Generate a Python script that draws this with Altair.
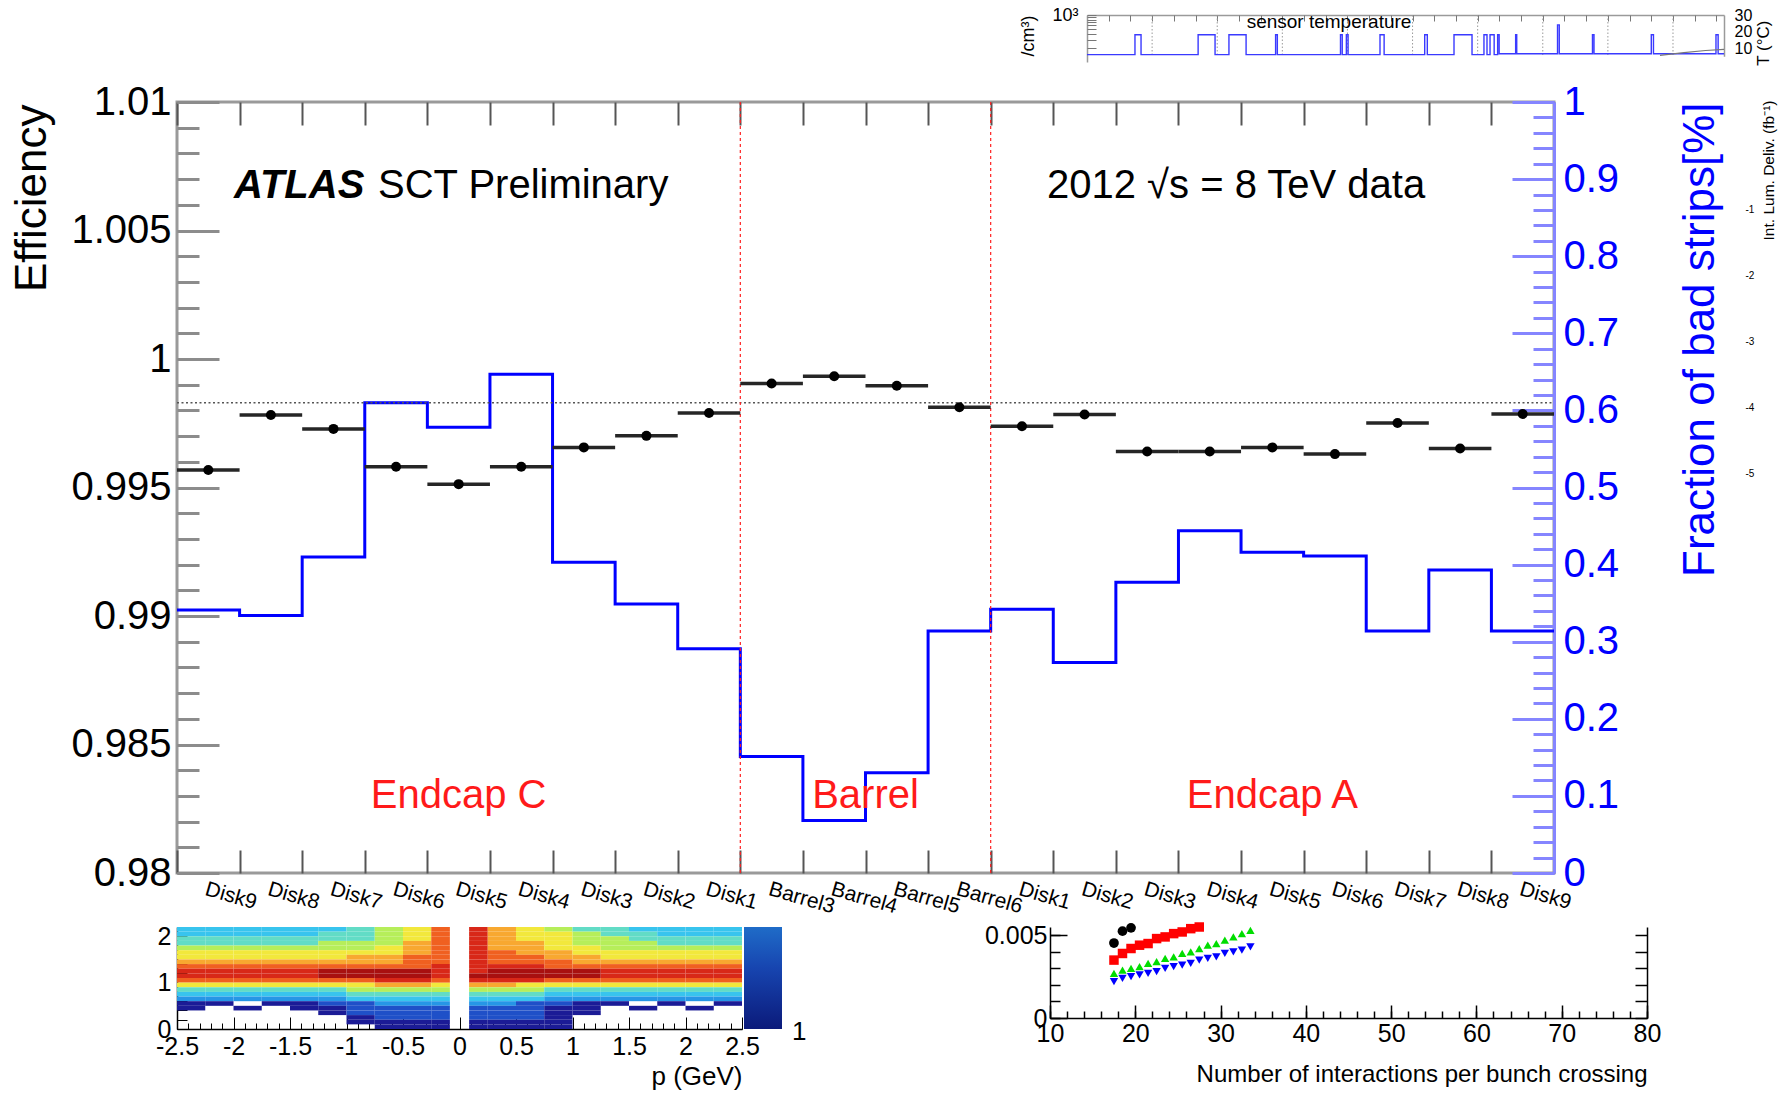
import altair as alt
import pandas as pd

# ---------------- main plot: SCT hit efficiency per barrel layer / endcap disk ----------------
layer_labels = ["Disk9", "Disk8", "Disk7", "Disk6", "Disk5", "Disk4", "Disk3", "Disk2", "Disk1",
                "Barrel3", "Barrel4", "Barrel5", "Barrel6",
                "Disk1", "Disk2", "Disk3", "Disk4", "Disk5", "Disk6", "Disk7", "Disk8", "Disk9"]
efficiency = [0.99568, 0.99782, 0.99728, 0.99581, 0.99513, 0.99581, 0.99656, 0.99701, 0.99790,
              0.99905, 0.99933, 0.99896, 0.99812,
              0.99738, 0.99784, 0.99640, 0.99640, 0.99656, 0.99630, 0.99751, 0.99652, 0.99786]
bad_strip_fraction = [0.341, 0.334, 0.410, 0.610, 0.578, 0.647, 0.403, 0.349, 0.291,
                      0.151, 0.068, 0.130, 0.314,
                      0.342, 0.273, 0.377, 0.444, 0.416, 0.411, 0.314, 0.393, 0.314]
mean_efficiency = 0.9983
region_edges = [9, 13]
region_names = ["Endcap C", "Barrel", "Endcap A"]
region_centres = [4.5, 11.0, 17.5]
eff_major = [0.98, 0.985, 0.99, 0.995, 1.0, 1.005, 1.01]
eff_minor = [0.980, 0.981, 0.982, 0.983, 0.984, 0.985, 0.986, 0.987, 0.988, 0.989, 0.990,
             0.991, 0.992, 0.993, 0.994, 0.995, 0.996, 0.997, 0.998, 0.999, 1.000,
             1.001, 1.002, 1.003, 1.004, 1.005, 1.006, 1.007, 1.008, 1.009, 1.010]
frac_major = [0, 0.1, 0.2, 0.3, 0.4, 0.5, 0.6, 0.7, 0.8, 0.9, 1.0]
frac_minor = [0.02 * i for i in range(51)]

# ---------------- fragment: 2D histogram versus p (bottom left) ----------------
heat_col_lo = [-2.5, -2.25, -2.0, -1.75, -1.5, -1.25, -1.0, -0.75, -0.5, -0.25,
               0.085, 0.25, 0.5, 0.75, 1.0, 1.25, 1.5, 1.75, 2.0, 2.25]
heat_col_hi = [-2.25, -2.0, -1.75, -1.5, -1.25, -1.0, -0.75, -0.5, -0.25, -0.085,
               0.25, 0.5, 0.75, 1.0, 1.25, 1.5, 1.75, 2.0, 2.25, 2.5]
# colour level per cell, rows from y = 2.1-2.2 (top) down to y = 0.0-0.1
heat_rows = [
    "4444445679" "a876554444",
    "4444455679" "a877655444",
    "5555555679" "a877665555",
    "5555566689" "a887666555",
    "6666666789" "a887766666",
    "7777777789" "a988777777",
    "7777778899" "a998877777",
    "8888888899" "a999888888",
    "999999999a" "aaa9999999",
    "aaaaabbbba" "abbbbaaaaa",
    "aaaaabbbba" "bbbbbaaaaa",
    "9999999aa9" "aaa9999999",
    "7777777887" "8877777777",
    "5555556666" "6665555555",
    "4444445555" "5554444444",
    "3333334444" "4443333333",
    "1101122333" "3322110101",
    "1010112222" "2221101010",
    "0000012222" "2221100000",
    "0000001222" "2221000000",
    "0000001111" "1111000000",
    "0000000111" "1111000000",
]
heat_levels = ["1", "2", "3", "4", "5", "6", "7", "8", "9", "a", "b"]
heat_colours = ["#1b1b96", "#1f50c8", "#2696e6", "#38c4ee", "#62dcc6", "#b6ee5a",
                "#f2e83c", "#f8a830", "#f06020", "#d82818", "#a81010"]
heat_p_ticks = [-2.5, -2, -1.5, -1, -0.5, 0, 0.5, 1, 1.5, 2, 2.5]

# ---------------- fragment: pile-up dependence (bottom right) ----------------
mu_black = [17.5, 18.5, 19.5]
val_black = [0.00453, 0.00525, 0.00545]
mu_red = [17.5, 18.5, 19.5, 20.5, 21.5, 22.5, 23.5, 24.5, 25.5, 26.5, 27.5]
val_red = [0.0035, 0.0039, 0.0042, 0.0044, 0.0045, 0.0048, 0.0049, 0.0051, 0.0052, 0.0054, 0.0055]
mu_tri = [17.5, 18.5, 19.5, 20.5, 21.5, 22.5, 23.5, 24.5, 25.5, 26.5, 27.5, 28.5, 29.5, 30.5, 31.5, 32.5, 33.5]
val_green = [0.0027, 0.0029, 0.0030, 0.0031, 0.0033, 0.0034, 0.0036, 0.0037, 0.0039,
             0.0040, 0.0042, 0.0044, 0.0045, 0.0047, 0.0049, 0.0051, 0.0053]
val_blue = [0.0022, 0.0024, 0.0025, 0.0026, 0.0027, 0.0028, 0.0030, 0.0031, 0.0032,
            0.0033, 0.0035, 0.0036, 0.0037, 0.0039, 0.0040, 0.0041, 0.0043]

# ---------------- fragment: sensor temperature strip (top right) ----------------
sensor_time = [0, 2.21, 2.49, 5.12, 5.90, 6.54, 7.33, 8.69, 8.77, 11.68, 11.76, 11.95, 12.03,
               13.50, 13.69, 15.56, 15.68, 16.91, 17.74, 18.29, 18.43, 18.57, 18.76, 18.92, 18.99,
               19.75, 19.80, 21.68, 21.76, 23.29, 23.36, 26.00, 26.10, 28.98, 29.08, 29.35]
sensor_temp = [6, 18, 6, 18, 6, 18, 6, 18, 6, 18, 6, 18, 6,
               18, 6, 18, 6, 18, 6, 18, 6, 18, 6, 18, 6.5,
               18, 6.5, 24, 6.5, 18, 6.5, 18, 6.5, 18, 6.5, 6.5]
strip_grid = [3, 6, 9, 12, 15, 18, 21, 24, 27]
lumi_time = [26.4, 27.5, 28.5, 29.35]
lumi_level = [5.5, 7.2, 8.5, 9.2]

# ---------------- layout (pixels) ----------------
FONT = "Liberation Sans"
CANVAS_W, CANVAS_H = 1789, 1093
LEFT, TOP, W, H = 177, 102, 1377, 771


def rx(px):
    return px - LEFT


def ry(py):
    return py - TOP


one = pd.DataFrame({"a": [0.0]})
n = len(layer_labels)
bins = pd.DataFrame({
    "lo": list(range(n)), "hi": list(range(1, n + 1)),
    "mid": [i + 0.5 for i in range(n)],
    "eff": efficiency, "frac": bad_strip_fraction,
})
steps = pd.DataFrame({"edge": list(range(n + 1)),
                      "frac": bad_strip_fraction + bad_strip_fraction[-1:]})
regions = pd.DataFrame({"c": region_centres, "name": region_names})


def sc(domain, rng=None, kind=None):
    kw = dict(domain=domain, nice=False, zero=False)
    if rng is not None:
        kw["range"] = rng
    if kind:
        kw["type"] = kind
    return alt.Scale(**kw)


bin_x = sc([0, n])
eff_y = sc([0.98, 1.01])
frac_y = sc([0, 1])


def tick_axis(orient, values, size, color, width, base=0):
    # ticks drawn inward from an axis line sitting `base` px outside the plot edge
    return alt.Axis(orient=orient, values=values, labels=False, domain=False, grid=False,
                    ticks=True, tickSize=size, tickColor=color, tickWidth=width,
                    offset=base - size, title=None)


def carrier(channel, scale, axis, value=0.0):
    df = pd.DataFrame({"a": [value]})
    if channel == "x":
        enc = {"x": alt.X("a:Q", scale=scale, axis=axis)}
    else:
        enc = {"y": alt.Y("a:Q", scale=scale, axis=axis)}
    return alt.Chart(df).mark_point(opacity=0).encode(**enc)


def text(t, x, y, size, **kw):
    style = dict(font=FONT, fontSize=size, align="left", baseline="alphabetic", color="black")
    style.update(kw)
    return alt.Chart(one).mark_text(text=t, **style).encode(x=alt.value(x), y=alt.value(y))


GRAY = "#9a9a9a"
LIGHT_BLUE = "#8585ff"
BLUE = "#0000ff"
PLAIN = "datum.value + ''"

label_expr = "[" + ",".join("'%s'" % s for s in layer_labels) + ",''][datum.value]"

# axes of the main plot
eff_label_axis = alt.Axis(
    orient="left", values=eff_major, format="~g", ticks=False, domain=False, grid=False,
    labelFontSize=40, labelPadding=6, labelColor="black", labelFont=FONT, labelFlush=False,
    title="Efficiency", titleFont=FONT, titleFontSize=44, titleFontWeight="normal",
    titleColor="black", titleAngle=270, titleAlign="right", titleBaseline="middle",
    titleX=-145, titleY=2)
frac_label_axis = alt.Axis(
    orient="right", values=frac_major, format="~g", ticks=False, domain=True,
    domainColor=LIGHT_BLUE, domainWidth=3, grid=False,
    labelFontSize=40, labelPadding=9, labelColor=BLUE, labelFont=FONT, labelFlush=False,
    title="Fraction of bad strips[%]", titleFont=FONT, titleFontSize=44,
    titleFontWeight="normal", titleColor=BLUE, titleAngle=270, titleAlign="right",
    titleBaseline="middle", titleX=146, titleY=0)
bin_label_axis = alt.Axis(
    orient="bottom", values=list(range(n)), labelExpr=label_expr, ticks=False, domain=False,
    grid=False, labelAngle=16, labelAlign="left", labelBaseline="top",
    labelOffset=W / n / 2, labelPadding=5, labelFontSize=21, labelFont=FONT,
    labelColor="black", labelOverlap=False, labelFlush=False, labelBound=False, title=None)

layers = []

# bad-strip fraction histogram (right axis)
layers.append(alt.Chart(steps).mark_line(interpolate="step-after", color=BLUE, strokeWidth=3).encode(
    x=alt.X("edge:Q", scale=bin_x, axis=bin_label_axis),
    y=alt.Y("frac:Q", scale=frac_y, axis=frac_label_axis)))

# average efficiency reference line
layers.append(alt.Chart(pd.DataFrame({"x0": [0], "x1": [n], "e": [mean_efficiency]}))
              .mark_rule(color="#555555", strokeDash=[2, 2.5], strokeWidth=1.6).encode(
    x=alt.X("x0:Q", scale=bin_x, axis=None), x2="x1:Q",
    y=alt.Y("e:Q", scale=eff_y, axis=eff_label_axis)))

# region separators
layers.append(alt.Chart(pd.DataFrame({"edge": region_edges}))
              .mark_rule(color="#ff2020", strokeDash=[3, 3], strokeWidth=1.2).encode(
    x=alt.X("edge:Q", scale=bin_x, axis=tick_axis("bottom", list(range(n + 1)), 23, "#555555", 2))))

# efficiency: bin-width bars and markers
layers.append(alt.Chart(bins).mark_rule(color="#262626", strokeWidth=3.5).encode(
    x=alt.X("lo:Q", scale=bin_x, axis=tick_axis("top", list(range(n + 1)), 23, "#555555", 2)),
    x2="hi:Q",
    y=alt.Y("eff:Q", scale=eff_y, axis=tick_axis("left", eff_major, 42, "#8c8c8c", 3))))
layers.append(alt.Chart(bins).mark_circle(size=100, color="black", opacity=1).encode(
    x=alt.X("mid:Q", scale=bin_x, axis=None),
    y=alt.Y("eff:Q", scale=eff_y, axis=tick_axis("left", eff_minor, 22, "#8c8c8c", 3))))
layers.append(carrier("y", frac_y, tick_axis("right", frac_major, 42, LIGHT_BLUE, 3), 0.5))
layers.append(carrier("y", frac_y, tick_axis("right", frac_minor, 21, LIGHT_BLUE, 3), 0.5))

# region names
layers.append(alt.Chart(regions).mark_text(font=FONT, fontSize=40, color="#ff1a1a",
                                           baseline="alphabetic").encode(
    x=alt.X("c:Q", scale=bin_x, axis=None), y=alt.value(706), text="name:N"))

# headline texts
layers.append(text("ATLAS", 57, 96, 40, fontWeight="bold", fontStyle="italic"))
layers.append(text("SCT Preliminary", 201, 96, 40))
layers.append(text("2012 \u221as = 8 TeV data", 870, 96, 40))

# ---------- bottom-left fragment: 2D histogram ----------
heat_x = sc([-2.5, 2.5], [rx(177), rx(742)])
heat_y = sc([0, 2.2], [ry(1029), ry(927)])
cells = []
for r, row in enumerate(heat_rows):
    top = 2.2 - 0.1 * r
    for c, lvl in enumerate(row):
        if lvl != "0":
            cells.append({"p0": heat_col_lo[c], "p1": heat_col_hi[c],
                          "y0": round(top - 0.1, 2), "y1": round(top, 2), "lvl": lvl})
cells = pd.DataFrame(cells)
layers.append(alt.Chart(cells).mark_rect(stroke=None).encode(
    x=alt.X("p0:Q", scale=heat_x, axis=alt.Axis(
        orient="bottom", offset=ry(1029) - H, values=heat_p_ticks, labelExpr=PLAIN, ticks=False,
        domain=True, domainColor="black", domainWidth=1.5, grid=False, labelFontSize=25,
        labelFont=FONT, labelColor="black", labelPadding=5, labelFlush=False,
        labelOverlap=False, title="p (GeV)", titleFont=FONT, titleFontSize=26,
        titleFontWeight="normal", titleColor="black", titleAnchor="end", titlePadding=4)),
    x2="p1:Q",
    y=alt.Y("y0:Q", scale=heat_y, axis=alt.Axis(
        orient="left", values=[0, 1, 2], ticks=False, domain=True, domainColor="black",
        domainWidth=1.5, grid=False, labelFontSize=25, labelFont=FONT, labelColor="black",
        labelPadding=6, labelFlush=False, labelOverlap=False, title=None)),
    y2="y1:Q",
    color=alt.Color("lvl:N", scale=alt.Scale(domain=heat_levels, range=heat_colours), legend=None)))
layers.append(carrier("x", heat_x, tick_axis("bottom", [round(-2.5 + 0.1 * i, 1) for i in range(51)],
                                              6, "black", 1, ry(1029) - H)))
layers.append(carrier("x", heat_x, tick_axis("bottom", heat_p_ticks, 12, "black", 1, ry(1029) - H)))
layers.append(carrier("y", heat_y, tick_axis("left", [0.2 * i for i in range(12)], 10, "black", 1)))
# colour bar of the 2D histogram
layers.append(alt.Chart(one).mark_rect(color=alt.LinearGradient(
    gradient="linear", x1=0, y1=1, x2=0, y2=0,
    stops=[alt.GradientStop(offset=0, color="#0b1a7a"), alt.GradientStop(offset=0.6, color="#1745b0"),
           alt.GradientStop(offset=1, color="#1f6cc8")])).encode(
    x=alt.value(rx(744)), x2=alt.value(rx(782)), y=alt.value(ry(927)), y2=alt.value(ry(1029))))
layers.append(text("1", rx(792), ry(1040), 26))

# ---------- bottom-right fragment: pile-up dependence ----------
mu_x = sc([10, 80], [rx(1050), rx(1647)])
frac_mu_y = sc([0, 0.0055], [ry(1018), ry(927)])
BASE_MU_X = ry(1018) - H
series = [(mu_black, val_black, "black", "circle", 95),
          (mu_red, val_red, "#ff0000", "square", 90),
          (mu_tri, val_green, "#00dd00", "triangle-up", 70),
          (mu_tri, val_blue, "#0000ff", "triangle-down", 70)]
first = True
for mus, vals, col, shape, size in series:
    df = pd.DataFrame({"mu": mus, "v": vals})
    if first:
        xa = alt.Axis(orient="bottom", offset=BASE_MU_X, values=[10, 20, 30, 40, 50, 60, 70, 80],
                      ticks=False, domain=True, domainColor="black", domainWidth=1.5, grid=False,
                      labelFontSize=25, labelFont=FONT, labelColor="black", labelPadding=3,
                      labelFlush=False, labelOverlap=False,
                      title="Number of interactions per bunch crossing",
                      titleFont=FONT, titleFontSize=24, titleFontWeight="normal",
                      titleColor="black", titleAnchor="end", titlePadding=16)
        ya = alt.Axis(orient="left", offset=-rx(1050), values=[0, 0.005], format="~g", ticks=False,
                      domain=True, domainColor="black", domainWidth=1.5, grid=False,
                      labelFontSize=25, labelFont=FONT, labelColor="black", labelPadding=3,
                      labelFlush=False, labelOverlap=False, title=None)
        first = False
    else:
        xa, ya = None, None
    layers.append(alt.Chart(df).mark_point(shape=shape, filled=True, color=col, size=size, opacity=1).encode(
        x=alt.X("mu:Q", scale=mu_x, axis=xa), y=alt.Y("v:Q", scale=frac_mu_y, axis=ya)))
layers.append(carrier("x", mu_x, tick_axis("bottom", [10 + 2 * i for i in range(36)], 7, "black", 1.5, BASE_MU_X), 20))
layers.append(carrier("x", mu_x, tick_axis("bottom", [10, 20, 30, 40, 50, 60, 70, 80], 13, "black", 1.5, BASE_MU_X), 20))
layers.append(carrier("y", frac_mu_y, tick_axis("left", [0.001 * i for i in range(6)], 10, "black", 1.5, -rx(1050)), 0.001))
layers.append(carrier("y", frac_mu_y, tick_axis("left", [0, 0.005], 17, "black", 1.5, -rx(1050)), 0.001))
layers.append(carrier("y", frac_mu_y, alt.Axis(orient="right", offset=rx(1647) - W, values=[0.001 * i for i in range(6)],
                                               labels=False, domain=True, domainColor="black", domainWidth=1.5,
                                               ticks=False, grid=False, title=None), 0.001))
layers.append(carrier("y", frac_mu_y, tick_axis("right", [0.001 * i for i in range(6)], 12, "black", 1.5, rx(1647) - W), 0.001))

# ---------- top-right fragment: sensor temperature ----------
strip_x = sc([0, 29.35], [rx(1087), rx(1724)])
temp_y = sc([5, 30], [ry(56.25), ry(15)])
dose_y = sc([100, 1000], [ry(62), ry(15)], "log")
layers.append(alt.Chart(pd.DataFrame({"t": strip_grid}))
              .mark_rule(color="#9a9a9a", strokeDash=[1.5, 2], strokeWidth=1).encode(
    x=alt.X("t:Q", scale=strip_x, axis=None), y=alt.value(ry(15)), y2=alt.value(ry(57))))
layers.append(alt.Chart(pd.DataFrame({"t": sensor_time, "T": sensor_temp}))
              .mark_line(interpolate="step-after", color="#3a3aff", strokeWidth=1.4).encode(
    x=alt.X("t:Q", scale=strip_x, axis=alt.Axis(
        orient="top", offset=-ry(15), labels=False, ticks=False, domain=True,
        domainColor=GRAY, domainWidth=1.5, grid=False, title=None)),
    y=alt.Y("T:Q", scale=temp_y, axis=alt.Axis(
        orient="right", offset=rx(1724) - W, values=[10, 20, 30], ticks=False, domain=True,
        domainColor=GRAY, domainWidth=1.5, grid=False, labelFontSize=16, labelFont=FONT,
        labelColor="black", labelPadding=10, labelFlush=False, labelOverlap=False,
        labelBaseline="middle",
        title="T (\u00b0C)", titleFont=FONT, titleFontSize=17, titleFontWeight="normal",
        titleColor="black", titleAngle=270, titleAlign="right", titleBaseline="middle",
        titleX=39, titleY=ry(20)))))
layers.append(alt.Chart(pd.DataFrame({"t": lumi_time, "v": lumi_level}))
              .mark_line(color="#777777", strokeWidth=1.2).encode(
    x=alt.X("t:Q", scale=strip_x, axis=None), y=alt.Y("v:Q", scale=temp_y, axis=None)))
layers.append(carrier("x", strip_x, tick_axis("top", list(range(1, 30)), 6, "#777777", 1, -ry(15)), 10))
layers.append(carrier("y", dose_y, alt.Axis(
    orient="left", offset=-rx(1087), values=[1000], labelExpr="'10\u00b3'", ticks=False, domain=True,
    domainColor=GRAY, domainWidth=1.5, grid=False, labelFontSize=18, labelFont=FONT, labelColor="black",
    labelPadding=9, labelFlush=False, title="/cm\u00b3)", titleFont=FONT, titleFontSize=18,
    titleFontWeight="normal", titleColor="black", titleAngle=270, titleAlign="right",
    titleBaseline="middle", titleX=-59, titleY=ry(15)), 1000))
layers.append(carrier("y", dose_y, tick_axis("left", [200, 300, 400, 500, 600, 700, 800, 900, 1000],
                                              9, "#777777", 1, -rx(1087)), 1000))
layers.append(text("sensor temperature", rx(1329), ry(28), 19, align="center"))

# ---------- right-edge fragment: integrated luminosity axis ----------
lumi_axis_y = sc([-1, -5], [ry(209), ry(473)])
layers.append(carrier("y", lumi_axis_y, alt.Axis(
    orient="right", offset=rx(1745) - W, values=[-1, -2, -3, -4, -5], labelExpr=PLAIN, ticks=False,
    domain=False, grid=False, labelFontSize=10, labelFont=FONT, labelColor="black", labelPadding=0,
    labelFlush=False, labelOverlap=False, title="Int. Lum. Deliv. (fb\u207b\u00b9)", titleFont=FONT,
    titleFontSize=15.5, titleFontWeight="normal", titleColor="black", titleAngle=270, titleAlign="right",
    titleBaseline="middle", titleX=23, titleY=ry(100)), -3))

chart = (alt.layer(*layers)
         .resolve_scale(x="independent", y="independent")
         .resolve_axis(x="independent", y="independent")
         .properties(width=W, height=H,
                     autosize=alt.AutoSizeParams(type="none"),
                     padding={"left": LEFT, "top": TOP, "right": CANVAS_W - LEFT - W,
                              "bottom": CANVAS_H - TOP - H})
         .configure(font=FONT, background="white")
         .configure_view(stroke=GRAY, strokeWidth=3))

chart.save("out.html", embed_options={"renderer": "svg", "actions": False})
